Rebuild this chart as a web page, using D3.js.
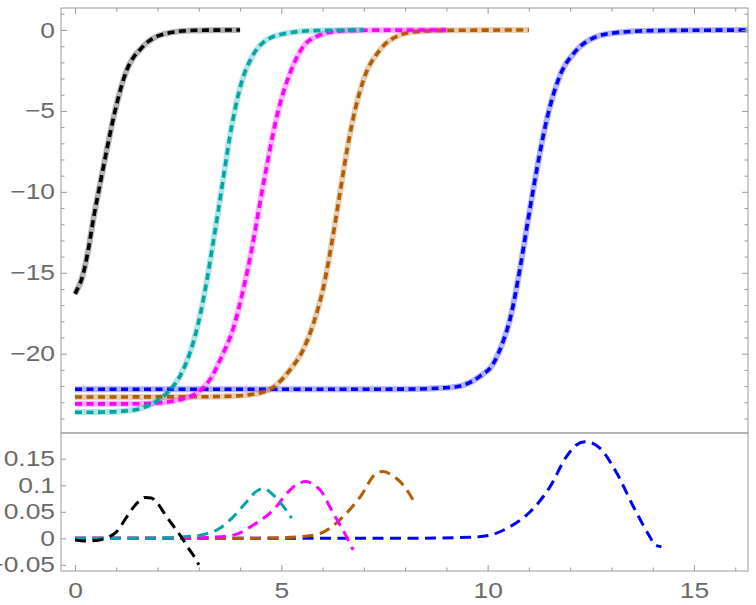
<!DOCTYPE html>
<html lang="en">
<head>
<meta charset="utf-8">
<title>Fits and residuals</title>
<script src="https://d3js.org/d3.v7.min.js"></script>
<style>
  body { margin: 0; background: #fff; }
</style>
</head>
<body>
<div id="chart"></div>
<script>
// values, per series ([x, y] pairs)
var blackTop = [[0,-16.3],[0.08,-15.9],[0.16,-15.4],[0.32,-13.6],[0.45,-11.6],[0.57,-10.0],[0.77,-7.4],[0.97,-5.0],[1.1,-3.7],[1.25,-2.5],[1.4,-1.75],[1.58,-1.2],[1.78,-0.7],[1.98,-0.4],[2.2,-0.22],[2.46,-0.1],[2.8,-0.03],[3.2,-0.01],[4.0,0]];
var cyanTop = [[0,-23.62],[0.6,-23.61],[1.17,-23.55],[1.6,-23.38],[2.0,-22.9],[2.3,-22.25],[2.54,-21.4],[2.75,-20.2],[2.9,-19.0],[3.05,-17.4],[3.2,-15.4],[3.33,-13.4],[3.47,-11.2],[3.59,-9.2],[3.8,-5.9],[4.04,-3.2],[4.28,-1.7],[4.64,-0.62],[5.13,-0.2],[5.77,-0.04],[7.0,0]];
var magentaTop = [[0,-23.1],[1.0,-23.1],[1.58,-23.09],[2.2,-23.0],[2.54,-22.84],[2.95,-22.43],[3.27,-21.6],[3.55,-20.2],[3.84,-18.4],[4.08,-16.0],[4.28,-13.6],[4.46,-11.0],[4.64,-8.5],[4.8,-6.4],[4.93,-4.94],[5.21,-2.67],[5.53,-1.03],[5.94,-0.31],[6.42,-0.06],[7.2,-0.01],[9.0,0]];
var brownTop = [[0,-22.68],[1.5,-22.67],[3.0,-22.66],[3.76,-22.63],[4.48,-22.43],[4.89,-21.9],[5.21,-21.0],[5.53,-19.75],[5.77,-18.2],[6.02,-15.9],[6.22,-13.2],[6.4,-10.4],[6.6,-7.3],[6.8,-4.8],[6.99,-3.09],[7.39,-1.23],[7.88,-0.31],[8.28,-0.1],[9.0,-0.02],[11.0,0]];
var blueTop = [[0,-22.2],[5,-22.2],[8,-22.19],[9.0,-22.1],[9.4,-21.95],[9.81,-21.4],[10.14,-20.6],[10.38,-19.2],[10.54,-17.9],[10.78,-14.8],[10.98,-11.73],[11.19,-8.64],[11.43,-5.56],[11.71,-3.09],[12.16,-1.23],[12.64,-0.41],[13.13,-0.16],[14,-0.04],[16.5,0]];

var blackRes = [[0,-0.003],[0.3,-0.005],[0.6,-0.003],[0.8,0.002],[1.0,0.012],[1.1,0.022],[1.25,0.04],[1.4,0.057],[1.55,0.07],[1.7,0.077],[1.85,0.076],[2.0,0.066],[2.2,0.043],[2.45,0.016],[2.6,0.0],[2.75,-0.019],[2.9,-0.036],[3.0,-0.05]];
var cyanRes = [[0,0],[1.5,0],[2.2,0.001],[2.6,0.003],[3.03,0.006],[3.51,0.019],[3.84,0.041],[4.16,0.069],[4.4,0.089],[4.56,0.094],[4.8,0.082],[5.05,0.06],[5.25,0.038]];
var magentaRes = [[0,0],[2.5,0],[3.3,0.002],[3.84,0.006],[4.32,0.025],[4.8,0.053],[5.21,0.091],[5.4,0.103],[5.61,0.107],[5.8,0.1],[5.94,0.091],[6.26,0.047],[6.58,0.003],[6.74,-0.022]];
var brownRes = [[0,0],[4,0],[5.0,0.001],[5.45,0.003],[5.94,0.009],[6.42,0.035],[6.91,0.078],[7.31,0.123],[7.47,0.126],[7.7,0.118],[7.96,0.1],[8.24,0.066]];
var blueRes = [[0,0],[8,0],[9.57,0.002],[10.06,0.006],[10.54,0.022],[11.03,0.05],[11.51,0.097],[11.91,0.154],[12.15,0.176],[12.36,0.182],[12.55,0.179],[12.72,0.17],[13.13,0.123],[13.53,0.06],[13.93,0.003],[14.05,-0.012],[14.21,-0.016]];

// drawn back to front
var seriesColors = ["#0000ff", "#b35c00", "#ff00ff", "#00a6a6", "#000000"];
var topSeries = [blueTop, brownTop, magentaTop, cyanTop, blackTop];
var resSeries = [blueRes, brownRes, magentaRes, cyanRes, blackRes];

var xTicks = [0, 5, 10, 15];
var topTicks = [0, -5, -10, -15, -20];
var resTicks = [0.15, 0.1, 0.05, 0, -0.05];
var resLabels = ["0.15", "0.1", "0.05", "0", "\u22120.05"];

var W = 756, H = 605;
var left = 61, right = 748, top0 = 8, split = 433, bottom = 571;
var frameGrey = "#9a9a9a", textGrey = "#6a6a6a";

var svg = d3.select("#chart").append("svg").attr("width", W).attr("height", H);

var x = d3.scaleLinear().domain([-0.34, 16.31]).range([left, right]);
var yTop = d3.scaleLinear().domain([-24.9, 1.36]).range([split, top0]);
var yRes = d3.scaleLinear().domain([-0.0616, 0.1986]).range([bottom, split]);

var defs = svg.append("defs");
defs.append("clipPath").attr("id", "clipTop").append("rect")
    .attr("x", left).attr("y", top0).attr("width", right - left).attr("height", split - top0);
defs.append("clipPath").attr("id", "clipRes").append("rect")
    .attr("x", left).attr("y", split).attr("width", right - left).attr("height", bottom - split);

// curves
var lineTop = d3.line().x(d => x(d[0])).y(d => yTop(d[1])).curve(d3.curveMonotoneX);
var lineRes = d3.line().x(d => x(d[0])).y(d => yRes(d[1])).curve(d3.curveMonotoneX);

var gTop = svg.append("g").attr("clip-path", "url(#clipTop)");
topSeries.forEach(function(s, i) {
    gTop.append("path").attr("d", lineTop(s)).attr("fill", "none")
        .attr("stroke", seriesColors[i]).attr("stroke-opacity", 0.3).attr("stroke-width", 6);
    gTop.append("path").attr("d", lineTop(s)).attr("fill", "none")
        .attr("stroke", seriesColors[i]).attr("stroke-width", 3.6)
        .attr("stroke-dasharray", "7,4.5");
});

var gRes = svg.append("g").attr("clip-path", "url(#clipRes)");
resSeries.forEach(function(s, i) {
    gRes.append("path").attr("d", lineRes(s)).attr("fill", "none")
        .attr("stroke", seriesColors[i]).attr("stroke-width", 3)
        .attr("stroke-dasharray", "11,6.5");
});

// frames
svg.append("rect").attr("x", left).attr("y", top0).attr("width", right - left).attr("height", split - top0)
    .attr("fill", "none").attr("stroke", frameGrey).attr("stroke-width", 1);
svg.append("rect").attr("x", left).attr("y", split).attr("width", right - left).attr("height", bottom - split)
    .attr("fill", "none").attr("stroke", frameGrey).attr("stroke-width", 1);

function styleAxis(g) {
    g.select(".domain").remove();
    g.selectAll("line").attr("stroke", frameGrey);
    g.selectAll("text").attr("fill", textGrey).attr("transform", "scale(1.2,1)");
    g.attr("font-size", 22).attr("font-family", "'Liberation Sans', Arial, sans-serif");
}

var minorX = d3.range(0, 17).filter(v => xTicks.indexOf(v) < 0);
var minorY = d3.range(-24, 2).filter(v => topTicks.indexOf(v) < 0);

// top panel: ticks along the top edge
svg.append("g").attr("transform", "translate(0," + top0 + ")")
    .call(d3.axisBottom(x).tickValues(xTicks).tickSize(6).tickFormat("")).call(styleAxis);
svg.append("g").attr("transform", "translate(0," + top0 + ")")
    .call(d3.axisBottom(x).tickValues(minorX).tickSize(3.5).tickFormat("")).call(styleAxis);

// top panel: left labels, inward ticks
svg.append("g").attr("transform", "translate(" + left + ",0)")
    .call(d3.axisLeft(yTop).tickValues(topTicks).tickSize(-6).tickPadding(5)
        .tickFormat(d => d < 0 ? "\u2212" + Math.abs(d) : String(d)))
    .call(styleAxis);
svg.append("g").attr("transform", "translate(" + left + ",0)")
    .call(d3.axisLeft(yTop).tickValues(minorY).tickSize(-3.5).tickFormat("")).call(styleAxis);

// top panel: right ticks
svg.append("g").attr("transform", "translate(" + right + ",0)")
    .call(d3.axisLeft(yTop).tickValues(topTicks).tickSize(6).tickFormat("")).call(styleAxis);
svg.append("g").attr("transform", "translate(" + right + ",0)")
    .call(d3.axisLeft(yTop).tickValues(minorY).tickSize(3.5).tickFormat("")).call(styleAxis);

// residual panel: bottom axis
svg.append("g").attr("transform", "translate(0," + bottom + ")")
    .call(d3.axisBottom(x).tickValues(xTicks).tickSize(-6).tickPadding(11)).call(styleAxis);
svg.append("g").attr("transform", "translate(0," + bottom + ")")
    .call(d3.axisBottom(x).tickValues(minorX).tickSize(-3.5).tickFormat("")).call(styleAxis);

// residual panel: left axis
svg.append("g").attr("transform", "translate(" + left + ",0)")
    .call(d3.axisLeft(yRes).tickValues(resTicks).tickSize(-5).tickPadding(5)
        .tickFormat((d, i) => resLabels[i]))
    .call(styleAxis);
</script>
</body>
</html>
